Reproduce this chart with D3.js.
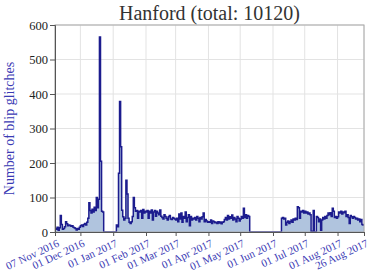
<!DOCTYPE html>
<html lang="en">
<head>
	<meta charset="UTF-8"/>
	<title>Hanford blip glitches</title>
	<script src="https://d3js.org/d3.v7.min.js"></script>
	<style>
		body { margin: 0; background-color: white; }
		svg { display: block; font-family: "Liberation Serif", "DejaVu Serif", serif; }
	</style>
</head>
<body>
	<script>
	var w = 374;
	var h = 278;

	var chartTitle = "Hanford (total: 10120)";
	var yLabel = "Number of blip glitches";

	// first day of the series, then one count per day
	var startDay = Date.UTC(2016, 10, 7);
	var endDay = Date.UTC(2017, 7, 26);

	var dailyCounts = [
		// Nov 7 - Dec 22 2016
		10, 8, 14, 5, 12, 48, 22, 8, 10, 15,
		30, 24, 18, 20, 19, 17, 18, 14, 12, 10,
		6, 10, 8, 14, 18, 20, 16, 22, 25, 20,
		28, 40, 85, 62, 55, 66, 58, 72, 62, 100,
		70, 95, 565, 205, 60, 58,
		// Dec 23 - Jan 3: no data
		0, 0, 0, 0, 0, 0, 0, 0, 0, 0, 0, 0,
		// Jan 4 - Jan 31 2017
		20, 15, 170, 378, 247, 63, 44, 35, 40, 150,
		110, 40, 28, 25, 30, 45, 100, 70, 60, 62,
		40, 60, 58, 62, 40, 65, 55, 60,
		// Feb 2017
		58, 62, 40, 60, 55, 64, 35, 58, 62, 46, 60, 55, 50, 64,
		46, 42, 38, 50, 45, 40, 35, 44, 48, 38, 36, 42, 40, 38,
		// Mar 2017
		35, 40, 30, 52, 38, 55, 28, 45, 40, 58, 30, 42, 50, 18, 45, 35,
		40, 38, 42, 35, 45, 40, 30, 42, 38, 44, 55, 30, 36, 32, 28,
		// Apr 2017
		30, 28, 35, 25, 32, 30, 27, 28, 25, 30, 26, 29, 24, 28, 30,
		36, 42, 35, 48, 38, 44, 40, 49, 35, 42, 38, 30, 45, 40, 32,
		// May 1 - May 19 2017
		38, 45, 40, 69, 42, 50, 40, 48, 45,
		// May 20 - Jun 8: no data
		0, 0, 0, 0, 0, 0, 0, 0, 0, 0,
		0, 0, 0, 0, 0, 0, 0, 0, 0, 0,
		0, 0, 0, 0, 0, 0, 0, 0, 0, 0,
		// Jun 9 - Aug 25 2017
		40, 42, 38, 40, 20, 28, 32, 25, 30, 35, 28,
		38, 35, 40, 36, 73, 70, 40, 60, 58, 62, 55, 60,
		55, 58, 52, 55, 50, 2, 0, 62, 0, 0,
		45, 42, 30, 38, 5, 35, 42, 38, 45, 40,
		48, 55, 50, 56, 45, 69, 60, 42, 45, 40,
		44, 58, 55, 60, 52, 58, 56, 60, 45, 50,
		42, 25, 48, 44, 40, 45, 42, 38, 40, 35,
		38, 30, 36, 22, 20
	];

	var tickDates = ["2016-11-07", "2016-12-01", "2017-01-01", "2017-02-01", "2017-03-01",
		"2017-04-01", "2017-05-01", "2017-06-01", "2017-07-01", "2017-08-01", "2017-08-26"];
	var tickLabels = ["07 Nov 2016", "01 Dec 2016", "01 Jan 2017", "01 Feb 2017", "01 Mar 2017",
		"01 Apr 2017", "01 May 2017", "01 Jun 2017", "01 Jul 2017", "01 Aug 2017", "26 Aug 2017"];
	var yTicks = [0, 100, 200, 300, 400, 500, 600];

	var margin = {top: 25, right: 10, bottom: 46, left: 55};
	var blue = "#3a3ab4";

	var points = dailyCounts.map(function(d, i) {
		return {date: new Date(startDay + i * 86400000), value: d};
	});
	// close the last step at the end date
	points.push({date: new Date(endDay), value: dailyCounts[dailyCounts.length - 1]});

	var xScale = d3.scaleUtc()
		.domain([new Date(startDay), new Date(endDay)])
		.range([margin.left, w - margin.right]);

	var yScale = d3.scaleLinear()
		.domain([0, 600])
		.range([h - margin.bottom, margin.top]);

	var tickValues = tickDates.map(function(s) { return new Date(s + "T00:00:00Z"); });

	var svg = d3.select("body")
		.append("svg")
		.attr("width", w)
		.attr("height", h);

	// grid
	svg.append("g")
		.selectAll("line")
		.data(yTicks)
		.enter()
		.append("line")
		.attr("x1", margin.left)
		.attr("x2", w - margin.right)
		.attr("y1", function(d) { return yScale(d); })
		.attr("y2", function(d) { return yScale(d); })
		.attr("stroke", "#e3e3e3")
		.attr("stroke-width", 1);

	svg.append("g")
		.selectAll("line")
		.data(tickValues)
		.enter()
		.append("line")
		.attr("x1", function(d) { return xScale(d); })
		.attr("x2", function(d) { return xScale(d); })
		.attr("y1", margin.top)
		.attr("y2", h - margin.bottom)
		.attr("stroke", "#e3e3e3")
		.attr("stroke-width", 1);

	var area = d3.area()
		.curve(d3.curveStepAfter)
		.x(function(d) { return xScale(d.date); })
		.y0(yScale(0))
		.y1(function(d) { return yScale(d.value); });

	var line = d3.line()
		.curve(d3.curveStepAfter)
		.x(function(d) { return xScale(d.date); })
		.y(function(d) { return yScale(d.value); });

	svg.append("path")
		.datum(points)
		.attr("d", area)
		.attr("fill", "#b0c4de");

	svg.append("path")
		.datum(points)
		.attr("d", line)
		.attr("fill", "none")
		.attr("stroke", "#1c1c8e")
		.attr("stroke-width", 1.5);

	// frame
	svg.append("rect")
		.attr("x", margin.left)
		.attr("y", margin.top)
		.attr("width", w - margin.right - margin.left)
		.attr("height", h - margin.bottom - margin.top)
		.attr("fill", "none")
		.attr("stroke", "#a8a8a8")
		.attr("stroke-width", 1);

	var yAxis = svg.append("g")
		.attr("transform", "translate(" + margin.left + ",0)")
		.call(d3.axisLeft(yScale).tickValues(yTicks).tickSize(5).tickPadding(2));
	yAxis.select(".domain").attr("stroke", "#555");
	yAxis.selectAll(".tick line").attr("stroke", "#555");
	yAxis.selectAll("text")
		.attr("font-size", 12.5)
		.attr("font-family", "Liberation Serif, serif")
		.attr("fill", "#222");

	var xAxis = svg.append("g")
		.attr("transform", "translate(0," + (h - margin.bottom) + ")")
		.call(d3.axisBottom(xScale).tickValues(tickValues).tickSize(4)
			.tickFormat(function(d, i) { return tickLabels[i]; }));
	xAxis.select(".domain").attr("stroke", "#555");
	xAxis.selectAll(".tick line").attr("stroke", "#555");
	xAxis.selectAll("text")
		.attr("font-size", 11)
		.attr("font-family", "Liberation Serif, serif")
		.attr("fill", blue)
		.attr("text-anchor", "end")
		.attr("dy", "0.35em")
		.attr("transform", "translate(0,4) rotate(-25)");

	svg.append("text")
		.attr("x", (margin.left + w - margin.right) / 2)
		.attr("y", 20)
		.attr("text-anchor", "middle")
		.attr("font-size", 20)
		.attr("fill", "#333")
		.text(chartTitle);

	svg.append("text")
		.attr("transform", "translate(14," + ((margin.top + h - margin.bottom) / 2) + ") rotate(-90)")
		.attr("text-anchor", "middle")
		.attr("font-size", 14)
		.attr("fill", blue)
		.text(yLabel);
	</script>
</body>
</html>
